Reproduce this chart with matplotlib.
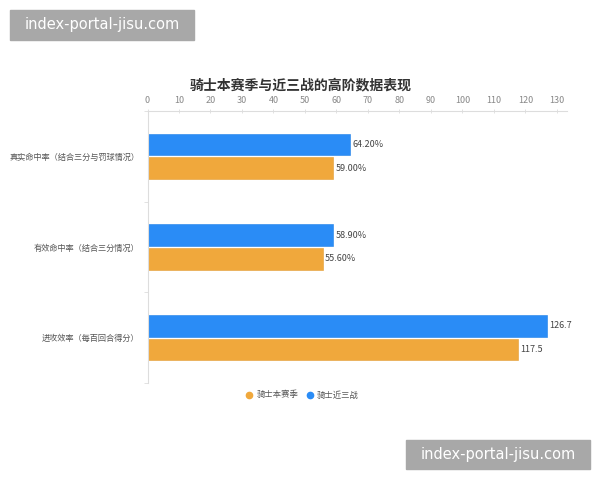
import matplotlib
matplotlib.use("Agg")
import matplotlib.pyplot as plt
from matplotlib.lines import Line2D
import numpy as np

plt.rcParams['font.family'] = ['Noto Sans CJK SC', 'DejaVu Sans']

categories = ["真实命中率（结合三分与罚球情况）", "有效命中率（结合三分情况）", "进攻效率（每百回合得分）"]
season_name = "骑士本赛季"
recent_name = "骑士近三战"
season_vals = [59.00, 55.60, 117.5]
recent_vals = [64.20, 58.90, 126.7]
season_labels = ["59.00%", "55.60%", "117.5"]
recent_labels = ["64.20%", "58.90%", "126.7"]
xticks = list(range(0, 131, 10))
title = "骑士本赛季与近三战的高阶数据表现"

c_season = "#F0A83C"
c_recent = "#2A8CF6"

fig = plt.figure(figsize=(6, 4.8), dpi=100)
ax = fig.add_axes([147.5/600, 1-383/480, (567-147.5)/600, (383-111)/480])

y = np.arange(len(categories))
h = 0.24
off = 0.13
ax.barh(y - off, recent_vals, height=h, color=c_recent, edgecolor="#1f7fe8", linewidth=0.4)
ax.barh(y + off, season_vals, height=h, color=c_season, edgecolor="#e39d33", linewidth=0.4)

for yi, v, t in zip(y, recent_vals, recent_labels):
    ax.text(v + 0.8, yi - off, t, va="center", ha="left", fontsize=6.5, color="#444444")
for yi, v, t in zip(y, season_vals, season_labels):
    ax.text(v + 0.8, yi + off, t, va="center", ha="left", fontsize=6.5, color="#444444")

ax.set_xlim(0, 133.2)
ax.set_ylim(2.5, -0.5)
ax.xaxis.tick_top()
ax.set_xticks(xticks)
ax.set_xticklabels([str(t) for t in xticks], fontsize=6.5, color="#888888")
ax.tick_params(axis="x", length=3, width=0.6, color="#dddddd", pad=3, direction="inout")
ax.set_yticks(y)
ax.set_yticklabels(categories, fontsize=5.9, color="#555555")
ax.tick_params(axis="y", length=0, pad=6)
ax.set_yticks([-0.5, 0.5, 1.5, 2.5], minor=True)
ax.tick_params(axis="y", which="minor", length=3, width=0.6, color="#dddddd")

for s in ["right", "bottom"]:
    ax.spines[s].set_visible(False)
ax.spines["top"].set_color("#dddddd")
ax.spines["left"].set_color("#dddddd")
ax.spines["top"].set_linewidth(0.8)
ax.spines["left"].set_linewidth(0.8)

fig.text(301/600, 1-85/480, title, ha="center", va="center", fontsize=10, fontweight="bold", color="#333333")

handles = [Line2D([], [], marker="o", linestyle="none", markersize=4.5, color=c_season),
           Line2D([], [], marker="o", linestyle="none", markersize=4.5, color=c_recent)]
fig.legend(handles, [season_name, recent_name], loc="center", bbox_to_anchor=(302/600, 1-395/480),
           ncol=2, frameon=False, fontsize=6.0, handletextpad=0.35, columnspacing=0.9,
           handlelength=1.0, labelcolor="#555555")

# watermarks
for (x0, y0, x1, y1) in [(10, 10, 194, 40), (406, 440, 590, 469)]:
    fig.patches.append(plt.Rectangle((x0/600, 1-y1/480), (x1-x0)/600, (y1-y0)/480,
                                     transform=fig.transFigure, color="#A8A8A8", zorder=5))
    fig.text((x0+x1)/2/600, 1-(y0+y1)/2/480, "index-portal-jisu.com", ha="center", va="center",
             fontsize=10.5, color="white", family="DejaVu Sans", zorder=6)

fig.savefig("out.png", dpi=100)
